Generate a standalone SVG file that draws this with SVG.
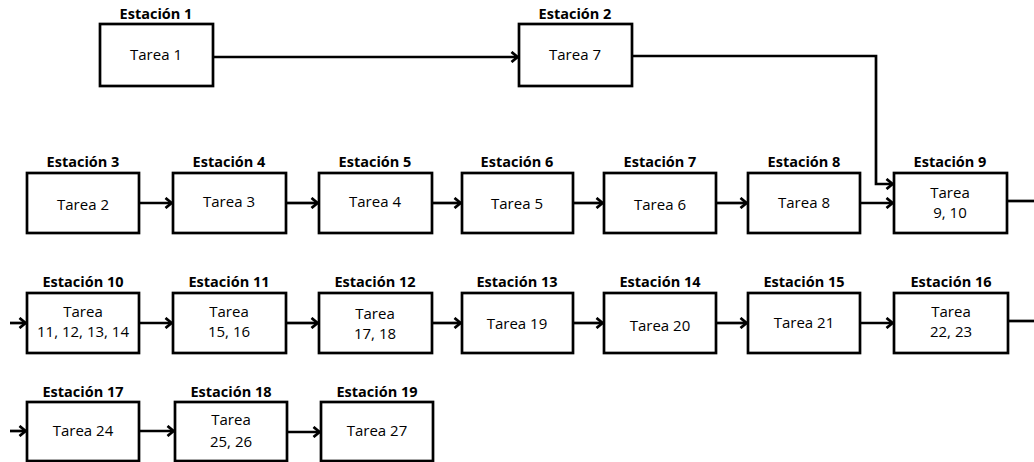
<svg xmlns="http://www.w3.org/2000/svg" width="1034" height="462" viewBox="0 0 1034 462">
  <style>
    .box { fill: #ffffff; stroke: #000000; stroke-width: 2.7; }
    .lbl { font-family: "Open Sans", "Noto Sans", sans-serif; font-weight: bold; font-size: 14.5px; text-anchor: middle; fill: #000; }
    .txt { font-family: "Open Sans", "Noto Sans", sans-serif; font-size: 15px; text-anchor: middle; fill: #000; }
    .edge { fill: none; stroke: #000000; stroke-width: 2.7; }
    .arr { marker-end: url(#ah); }
  </style>
  <defs>
    <marker id="ah" markerUnits="userSpaceOnUse" markerWidth="12" markerHeight="12" refX="8" refY="6" orient="auto">
      <path d="M1.5,1 L7.5,6 L1.5,11" fill="none" stroke="#000" stroke-width="2.8"/>
    </marker>
  </defs>
  <rect width="1034" height="462" fill="#ffffff"/>

  <g id="connectors">
    <line class="edge arr" x1="213" y1="57" x2="518" y2="57"/>
    <polyline class="edge arr" points="632,56 876,56 876,184 893,184"/>
    <line class="edge arr" x1="139" y1="203" x2="172" y2="203"/>
    <line class="edge arr" x1="286" y1="203" x2="318" y2="203"/>
    <line class="edge arr" x1="432" y1="203" x2="461" y2="203"/>
    <line class="edge arr" x1="573" y1="203" x2="603" y2="203"/>
    <line class="edge arr" x1="716" y1="203" x2="747" y2="203"/>
    <line class="edge arr" x1="860" y1="203" x2="893" y2="203"/>
    <line class="edge" x1="1007" y1="201" x2="1034" y2="201"/>
    <line class="edge arr" x1="10" y1="323" x2="26" y2="323"/>
    <line class="edge arr" x1="139" y1="323" x2="172" y2="323"/>
    <line class="edge arr" x1="286" y1="323" x2="318" y2="323"/>
    <line class="edge arr" x1="432" y1="323" x2="461" y2="323"/>
    <line class="edge arr" x1="573" y1="323" x2="603" y2="323"/>
    <line class="edge arr" x1="716" y1="323" x2="747" y2="323"/>
    <line class="edge arr" x1="860" y1="323" x2="893" y2="323"/>
    <line class="edge" x1="1008" y1="321" x2="1034" y2="321"/>
    <line class="edge arr" x1="10" y1="431" x2="26" y2="431"/>
    <line class="edge arr" x1="139" y1="431" x2="174" y2="431"/>
    <line class="edge arr" x1="287" y1="432" x2="320" y2="432"/>
  </g>

  <g id="n1"><text class="lbl" x="156" y="19">Estación 1</text><rect class="box" x="100" y="24" width="113" height="62"/><text class="txt" x="156" y="60">Tarea 1</text></g>
  <g id="n2"><text class="lbl" x="575" y="19">Estación 2</text><rect class="box" x="519" y="24" width="113" height="62"/><text class="txt" x="575" y="60">Tarea 7</text></g>

  <g id="n3"><text class="lbl" x="83" y="167">Estación 3</text><rect class="box" x="27" y="173" width="112" height="60"/><text class="txt" x="83" y="210">Tarea 2</text></g>
  <g id="n4"><text class="lbl" x="229" y="167">Estación 4</text><rect class="box" x="173" y="173" width="113" height="60"/><text class="txt" x="229" y="207">Tarea 3</text></g>
  <g id="n5"><text class="lbl" x="375" y="167">Estación 5</text><rect class="box" x="319" y="173" width="113" height="60"/><text class="txt" x="375" y="207">Tarea 4</text></g>
  <g id="n6"><text class="lbl" x="517" y="167">Estación 6</text><rect class="box" x="462" y="173" width="111" height="60"/><text class="txt" x="517" y="209">Tarea 5</text></g>
  <g id="n7"><text class="lbl" x="660" y="167">Estación 7</text><rect class="box" x="604" y="173" width="112" height="60"/><text class="txt" x="660" y="210">Tarea 6</text></g>
  <g id="n8"><text class="lbl" x="804" y="167">Estación 8</text><rect class="box" x="748" y="173" width="112" height="60"/><text class="txt" x="804" y="208">Tarea 8</text></g>
  <g id="n9"><text class="lbl" x="950" y="167">Estación 9</text><rect class="box" x="894" y="173" width="113" height="60"/><text class="txt" x="950" y="198">Tarea</text><text class="txt" x="950" y="218">9, 10</text></g>

  <g id="n10"><text class="lbl" x="83" y="287">Estación 10</text><rect class="box" x="27" y="293" width="112" height="60"/><text class="txt" x="83" y="317">Tarea</text><text class="txt" x="83" y="337">11, 12, 13, 14</text></g>
  <g id="n11"><text class="lbl" x="229" y="287">Estación 11</text><rect class="box" x="173" y="293" width="113" height="60"/><text class="txt" x="229" y="317">Tarea</text><text class="txt" x="229" y="337">15, 16</text></g>
  <g id="n12"><text class="lbl" x="375" y="287">Estación 12</text><rect class="box" x="319" y="293" width="113" height="60"/><text class="txt" x="375" y="319">Tarea</text><text class="txt" x="375" y="339">17, 18</text></g>
  <g id="n13"><text class="lbl" x="517" y="287">Estación 13</text><rect class="box" x="462" y="293" width="111" height="60"/><text class="txt" x="517" y="329">Tarea 19</text></g>
  <g id="n14"><text class="lbl" x="660" y="287">Estación 14</text><rect class="box" x="604" y="293" width="112" height="60"/><text class="txt" x="660" y="331">Tarea 20</text></g>
  <g id="n15"><text class="lbl" x="804" y="287">Estación 15</text><rect class="box" x="748" y="293" width="112" height="60"/><text class="txt" x="804" y="328">Tarea 21</text></g>
  <g id="n16"><text class="lbl" x="951" y="287">Estación 16</text><rect class="box" x="894" y="293" width="114" height="60"/><text class="txt" x="951" y="317">Tarea</text><text class="txt" x="951" y="337">22, 23</text></g>

  <g id="n17"><text class="lbl" x="83" y="397">Estación 17</text><rect class="box" x="27" y="402" width="112" height="59"/><text class="txt" x="83" y="436">Tarea 24</text></g>
  <g id="n18"><text class="lbl" x="231" y="397">Estación 18</text><rect class="box" x="175" y="402" width="112" height="59"/><text class="txt" x="231" y="425">Tarea</text><text class="txt" x="231" y="447">25, 26</text></g>
  <g id="n19"><text class="lbl" x="377" y="397">Estación 19</text><rect class="box" x="321" y="402" width="112" height="59"/><text class="txt" x="377" y="436">Tarea 27</text></g>
</svg>
